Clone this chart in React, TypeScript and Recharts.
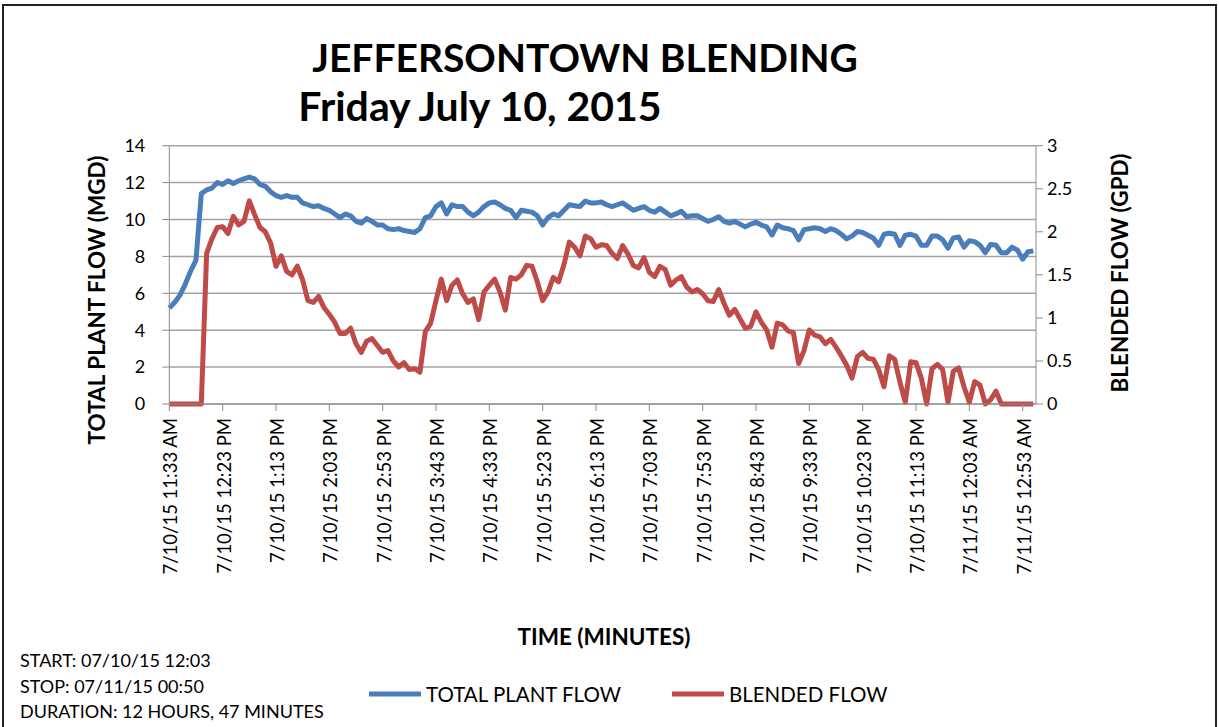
import { LineChart, Line, XAxis, YAxis, CartesianGrid, Legend } from "recharts";

// one sample every 5 minutes, starting 7/10/15 11:33 AM
const STEP = 5;

const totalPlantFlow = [
  5.2, 5.5, 5.9, 6.5, 7.2, 7.8, 11.4, 11.6, 11.7, 12.0,
  11.9, 12.1, 11.95, 12.1, 12.2, 12.3, 12.2, 11.9, 11.8, 11.5,
  11.3, 11.2, 11.3, 11.2, 11.2, 10.9, 10.8, 10.7, 10.75, 10.6,
  10.5, 10.3, 10.1, 10.3, 10.2, 9.9, 9.8, 10.05, 9.9, 9.7,
  9.7, 9.5, 9.45, 9.5, 9.4, 9.35, 9.3, 9.5, 10.1, 10.2,
  10.7, 10.9, 10.3, 10.8, 10.7, 10.7, 10.4, 10.2, 10.4, 10.7,
  10.9, 10.95, 10.8, 10.6, 10.5, 10.1, 10.5, 10.45, 10.4, 10.2,
  9.7, 10.1, 10.3, 10.2, 10.5, 10.8, 10.75, 10.7, 11.0, 10.9,
  10.9, 10.95, 10.8, 10.7, 10.8, 10.9, 10.7, 10.5, 10.6, 10.7,
  10.5, 10.4, 10.6, 10.4, 10.2, 10.3, 10.45, 10.15, 10.2, 10.2,
  10.05, 9.9, 10.0, 10.15, 9.9, 9.8, 9.9, 9.75, 9.6, 9.75,
  9.85, 9.7, 9.6, 9.16, 9.7, 9.55, 9.5, 9.4, 8.9, 9.45,
  9.5, 9.55, 9.5, 9.35, 9.5, 9.4, 9.2, 8.95, 9.1, 9.35,
  9.3, 9.15, 9.0, 8.6, 9.2, 9.25, 9.2, 8.6, 9.15, 9.2,
  9.1, 8.6, 8.6, 9.1, 9.1, 8.9, 8.45, 9.0, 9.05, 8.5,
  8.85, 8.8, 8.6, 8.2, 8.65, 8.6, 8.2, 8.2, 8.5, 8.35,
  7.85, 8.25, 8.3,
];

const blendedFlow = [
  0, 0, 0, 0, 0, 0, 0, 1.75, 1.92, 2.05,
  2.06, 1.98, 2.18, 2.08, 2.12, 2.36, 2.2, 2.05, 2.0, 1.87,
  1.6, 1.72, 1.54, 1.5, 1.6, 1.44, 1.2, 1.18, 1.25, 1.12,
  1.04, 0.95, 0.82, 0.82, 0.88, 0.7, 0.6, 0.73, 0.76, 0.68,
  0.6, 0.62, 0.5, 0.43, 0.48, 0.4, 0.41, 0.37, 0.84, 0.94,
  1.2, 1.45, 1.2, 1.38, 1.44, 1.28, 1.18, 1.22, 0.98, 1.3,
  1.38, 1.45, 1.3, 1.09, 1.47, 1.45, 1.5, 1.61, 1.6, 1.42,
  1.2, 1.3, 1.47, 1.42, 1.62, 1.88, 1.82, 1.72, 1.95, 1.92,
  1.82, 1.85, 1.84, 1.75, 1.69, 1.84, 1.74, 1.61, 1.58, 1.7,
  1.53, 1.48, 1.6, 1.56, 1.38, 1.44, 1.48, 1.36, 1.3, 1.33,
  1.28, 1.2, 1.19, 1.33, 1.17, 1.03, 1.1, 0.99, 0.88, 0.9,
  1.07, 0.95, 0.86, 0.66, 0.94, 0.92, 0.85, 0.83, 0.47, 0.62,
  0.86, 0.8, 0.78, 0.7, 0.75, 0.66, 0.56, 0.45, 0.3, 0.55,
  0.6, 0.53, 0.52, 0.4, 0.2, 0.56, 0.52, 0.25, 0.02, 0.49,
  0.48, 0.3, 0.0, 0.41, 0.46, 0.4, 0.02, 0.38, 0.42, 0.2,
  0.02, 0.26, 0.22, 0.0, 0.05, 0.15, 0, 0, 0, 0,
  0, 0, 0,
];

// tick every 50 minutes
const tickMinutes = [0, 50, 100, 150, 200, 250, 300, 350, 400, 450, 500, 550, 600, 650, 700, 750, 800];
const tickLabels = [
  "7/10/15 11:33 AM",
  "7/10/15 12:23 PM",
  "7/10/15 1:13 PM",
  "7/10/15 2:03 PM",
  "7/10/15 2:53 PM",
  "7/10/15 3:43 PM",
  "7/10/15 4:33 PM",
  "7/10/15 5:23 PM",
  "7/10/15 6:13 PM",
  "7/10/15 7:03 PM",
  "7/10/15 7:53 PM",
  "7/10/15 8:43 PM",
  "7/10/15 9:33 PM",
  "7/10/15 10:23 PM",
  "7/10/15 11:13 PM",
  "7/11/15 12:03 AM",
  "7/11/15 12:53 AM",
];
const leftTicks = [0, 2, 4, 6, 8, 10, 12, 14];
const rightTicks = [0, 0.5, 1, 1.5, 2, 2.5, 3];

const BLUE = "#4a7ebb";
const RED = "#be4b48";
const FONT = "Lato, 'Open Sans', sans-serif";

const data = totalPlantFlow.map((v, i) => ({
  m: i * STEP,
  total: v,
  blended: blendedFlow[i],
}));

const XTick = (props: any) => {
  const { x, y, payload } = props;
  const idx = tickMinutes.indexOf(payload.value);
  return (
    <text
      x={x + 1}
      y={y}
      transform={`rotate(-90, ${x + 1}, ${y})`}
      textAnchor="end"
      dominantBaseline="central"
      fontFamily={FONT}
      fontSize={18.5}
      fill="#000"
    >
      {tickLabels[idx]}
    </text>
  );
};

const LegendBox = () => (
  <svg width={1219} height={24}>
    <line x1={369} x2={421} y1={12} y2={12} stroke={BLUE} strokeWidth={5} />
    <text x={426} y={12} dominantBaseline="central" fontFamily={FONT} fontSize={20.5} fill="#000">
      TOTAL PLANT FLOW
    </text>
    <line x1={672} x2={724} y1={12} y2={12} stroke={RED} strokeWidth={5} />
    <text x={729} y={12} dominantBaseline="central" fontFamily={FONT} fontSize={20.5} fill="#000">
      BLENDED FLOW
    </text>
  </svg>
);

const txt = (extra: any) => ({
  position: "absolute" as const,
  fontFamily: FONT,
  color: "#000",
  lineHeight: 1,
  whiteSpace: "nowrap" as const,
  ...extra,
});

export default function App() {
  return (
    <div style={{ position: "absolute", left: 0, top: 0, width: 1219, height: 727, background: "#fff", overflow: "hidden" }}>
      <div style={{ position: "absolute", left: 2, top: 4, width: 1211, height: 740, border: "2px solid #222" }} />
      <LineChart
        width={1219}
        height={727}
        data={data}
        margin={{ top: 145.7, right: 103, bottom: 123, left: 109.3 }}
      >
        <CartesianGrid yAxisId="left" vertical={false} stroke="#a3a3a3" strokeWidth={1.5} />
        <XAxis
          dataKey="m"
          type="number"
          domain={[0, 812.5]}
          ticks={tickMinutes}
          interval={0}
          height={200}
          tickSize={7}
          tickMargin={7}
          stroke="#8c8c8c"
          tick={<XTick />}
        />
        <YAxis
          yAxisId="left"
          domain={[0, 14]}
          ticks={leftTicks}
          width={60}
          tickSize={7}
          tickMargin={17}
          stroke="#8c8c8c"
          tick={{ fontSize: 18, fill: "#000", fontFamily: FONT }}
        />
        <YAxis
          yAxisId="right"
          orientation="right"
          domain={[0, 3]}
          ticks={rightTicks}
          width={80}
          tickSize={7}
          tickMargin={4}
          stroke="#8c8c8c"
          tick={{ fontSize: 18, fill: "#000", fontFamily: FONT }}
        />
        <Line
          yAxisId="left"
          type="linear"
          dataKey="total"
          stroke={BLUE}
          strokeWidth={5}
          strokeLinejoin="round"
          dot={false}
          isAnimationActive={false}
        />
        <Line
          yAxisId="right"
          type="linear"
          dataKey="blended"
          stroke={RED}
          strokeWidth={5}
          strokeLinejoin="round"
          dot={false}
          isAnimationActive={false}
        />
        <Legend
          layout="horizontal"
          verticalAlign="middle"
          content={<LegendBox />}
          wrapperStyle={{ position: "absolute", left: 0, top: 682, width: 1219, height: 24 }}
        />
      </LineChart>

      <div style={txt({ left: 585, top: 39.5, fontSize: 39, lineHeight: 0.9, fontWeight: 700, transform: "translateX(-50%)" })}>
        JEFFERSONTOWN BLENDING
      </div>
      <div style={txt({ left: 480, top: 88, fontSize: 41, lineHeight: 0.9, fontWeight: 700, transform: "translateX(-50%)" })}>
        Friday July 10, 2015
      </div>
      <div style={txt({ left: 97, top: 300, fontSize: 22.5, fontWeight: 700, transform: "translate(-50%, -50%) rotate(-90deg)" })}>
        TOTAL PLANT FLOW (MGD)
      </div>
      <div style={txt({ left: 1120, top: 273, fontSize: 22.5, fontWeight: 700, transform: "translate(-50%, -50%) rotate(-90deg)" })}>
        BLENDED FLOW (GPD)
      </div>
      <div style={txt({ left: 604, top: 626, fontSize: 22.5, fontWeight: 700, transform: "translateX(-50%)" })}>
        TIME (MINUTES)
      </div>
      <div style={txt({ left: 20, top: 651, fontSize: 18 })}>START: 07/10/15 12:03</div>
      <div style={txt({ left: 20, top: 677, fontSize: 18 })}>STOP: 07/11/15 00:50</div>
      <div style={txt({ left: 20, top: 702, fontSize: 18 })}>DURATION: 12 HOURS, 47 MINUTES</div>
    </div>
  );
}
